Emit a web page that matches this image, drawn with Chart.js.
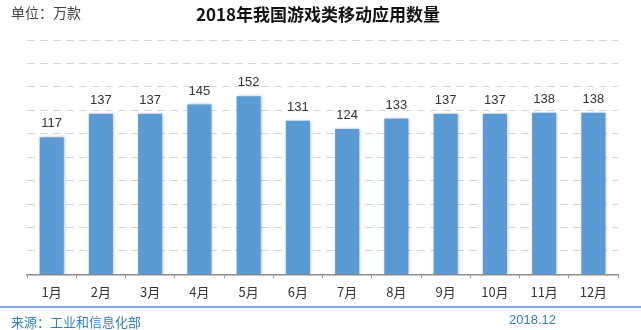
<!DOCTYPE html>
<html>
<head>
<meta charset="utf-8">
<script src="https://cdn.jsdelivr.net/npm/chart.js@4/dist/chart.umd.min.js"></script>
<style>
  body { margin: 0; background: #fff; }
  #wrap { position: relative; width: 641px; height: 330px; overflow: hidden; font-family: "Noto Sans CJK SC", "Microsoft YaHei", sans-serif; }
  #chart { position: absolute; left: 0; top: 0; }
  .txt { position: absolute; white-space: nowrap; }
  #unit { left: 11px; top: 2px; font-size: 14px; color: #444; }
  #title { left: 0; width: 636px; text-align: center; top: 1px; font-size: 17px; font-weight: bold; color: #111; }
  #rule { position: absolute; left: 0; top: 306px; width: 641px; height: 2px; background: #7eb1e3; }
  #source { left: 11px; top: 312px; font-size: 13px; color: #2f7fce; }
  #date { left: 509px; top: 312px; font-size: 13px; color: #2f7fce; font-family: "Liberation Sans", Arial, sans-serif; }
</style>
</head>
<body>
<div id="wrap">
  <canvas id="chart" width="641" height="330"></canvas>
  <div class="txt" id="unit">单位：万款</div>
  <div class="txt" id="title">2018年我国游戏类移动应用数量</div>
  <div id="rule"></div>
  <div class="txt" id="source">来源：工业和信息化部</div>
  <div class="txt" id="date">2018.12</div>
</div>
<script>
// 数据
const months = ['1月', '2月', '3月', '4月', '5月', '6月', '7月', '8月', '9月', '10月', '11月', '12月'];
const appCounts = [117, 137, 137, 145, 152, 131, 124, 133, 137, 137, 138, 138];
const yMax = 200;
const yStep = 20;

// 柱子阴影
const barShadow = {
  id: 'barShadow',
  beforeDatasetsDraw(chart) {
    const ctx = chart.ctx;
    ctx.save();
    ctx.shadowColor = 'rgba(0,0,0,0.28)';
    ctx.shadowBlur = 3;
    ctx.shadowOffsetX = 1;
    ctx.shadowOffsetY = 0;
  },
  afterDatasetsDraw(chart) {
    chart.ctx.restore();
  }
};

// 数值标签
const valueLabels = {
  id: 'valueLabels',
  afterDatasetsDraw(chart) {
    const ctx = chart.ctx;
    const meta = chart.getDatasetMeta(0);
    ctx.save();
    ctx.font = '13px "Liberation Sans", Arial, sans-serif';
    ctx.fillStyle = '#333';
    ctx.textAlign = 'center';
    ctx.textBaseline = 'bottom';
    meta.data.forEach((bar, i) => {
      ctx.fillText(appCounts[i], bar.x, bar.y - 7);
    });
    ctx.restore();
  }
};

new Chart(document.getElementById('chart').getContext('2d'), {
  type: 'bar',
  data: {
    labels: months,
    datasets: [{
      data: appCounts,
      backgroundColor: '#5b9bd5',
      borderWidth: 0,
      categoryPercentage: 1,
      barPercentage: 0.49
    }]
  },
  options: {
    responsive: false,
    animation: false,
    events: [],
    layout: { padding: { left: 27, right: 23, top: 40, bottom: 24 } },
    plugins: {
      legend: { display: false },
      tooltip: { enabled: false }
    },
    scales: {
      x: {
        grid: { drawOnChartArea: false, drawTicks: true, tickLength: 4, color: '#999', lineWidth: 1 },
        border: { display: true, color: '#8c8c8c', width: 1.5 },
        ticks: { color: '#333', font: { size: 13, family: '"Noto Sans CJK SC", sans-serif' }, padding: 6 }
      },
      y: {
        min: 0,
        max: yMax,
        ticks: { display: false, stepSize: yStep },
        border: { display: false, dash: [8, 5] },
        grid: { color: '#d3d3d3', lineWidth: 1, drawTicks: false }
      }
    }
  },
  plugins: [barShadow, valueLabels]
});
</script>
</body>
</html>
